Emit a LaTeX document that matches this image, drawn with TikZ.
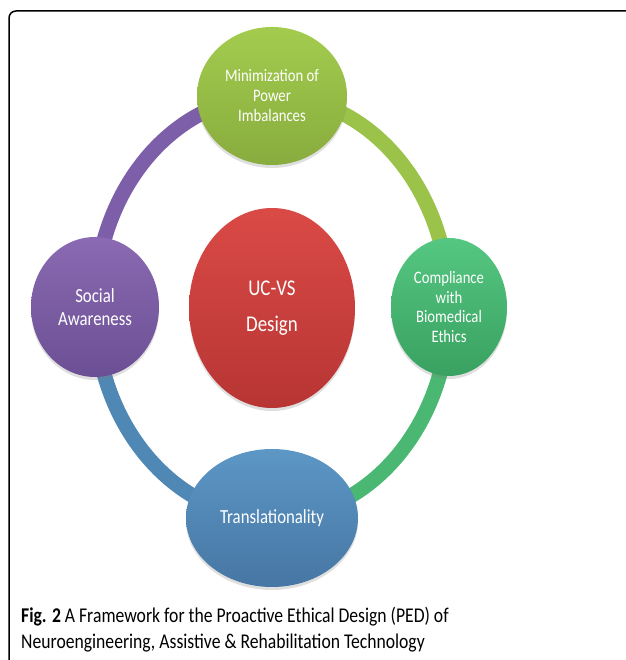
\documentclass[tikz,border=0pt]{standalone}
\usepackage{fontspec}
\setmainfont[FakeStretch=0.84]{Carlito}
\newfontfamily\capfont[FakeStretch=0.84]{Carlito}
\usetikzlibrary{shapes.geometric,shadows,backgrounds}

\definecolor{limetop}{HTML}{A3CC4E}
\definecolor{limebot}{HTML}{88AC3E}
\definecolor{limering}{HTML}{9BC34A}
\definecolor{purtop}{HTML}{8A6AB2}
\definecolor{purbot}{HTML}{6B4F94}
\definecolor{purring}{HTML}{7D5EA8}
\definecolor{redtop}{HTML}{DA4A46}
\definecolor{redbot}{HTML}{B73534}
\definecolor{grntop}{HTML}{55C781}
\definecolor{grnbot}{HTML}{39A161}
\definecolor{grnring}{HTML}{4AB872}
\definecolor{blutop}{HTML}{5C97C6}
\definecolor{blubot}{HTML}{4776A3}
\definecolor{bluring}{HTML}{4F88B5}

\begin{document}
\begin{tikzpicture}[x=1pt, y=1pt,
   bubble/.style={ellipse, inner sep=0pt, align=center, text=white,
      drop shadow={opacity=0.25, shadow xshift=0pt, shadow yshift=-3pt}},
   ring/.style={line width=15pt}]
   \useasboundingbox (0,0) rectangle (625,660);

   \def \Bubbles {
      top/272/564/150/138/lime/17.5/20/{Minimization of\\Power\\Imbalances},
      left/95/353/128/140/pur/20/23/{Social\\Awareness},
      right/449/353/116/138/grn/17.5/19.5/{Compliance\\with\\Biomedical\\Ethics},
      bottom/272/142/172/138/blu/20/23/{Translationality}}
   \def \Links {
      top/right/0/90/97.8/116.5/limering,
      right/bottom/-90/0/116.5/97.8/grnring,
      bottom/left/180/-90/97.8/116.5/bluring,
      left/top/90/180/116.5/97.8/purring}

   \foreach \n / \x / \y / \w / \h / \c / \s / \l / \t in \Bubbles {
      \node[bubble, minimum width=\w, minimum height=\h,
         top color=\c top, bottom color=\c bot,
         font=\fontsize{\s}{\l}\selectfont] (\n) at (\x, \y) {\t};
   }
   \node[bubble, minimum width=166, minimum height=200,
      top color=redtop, bottom color=redbot,
      font=\fontsize{22.5}{36}\selectfont] (core) at (272, 352) {UC-VS\\Design};

   \begin{scope}[on background layer]
      \draw[line width=1.5pt, rounded corners=7pt] (9,-20) rectangle (660,649);
      \foreach \u / \v / \o / \i / \do / \di / \c in \Links {
         \path[draw, ring, \c] (\u.center)
            to[out=\o, in=\i, out distance=\do, in distance=\di] (\v.center);
      }
   \end{scope}

   % caption
   \node[anchor=base west, inner sep=0pt, font=\capfont\fontsize{21}{25}\selectfont] (capA)
      at (21, 37) {\textbf{Fig. 2} A Framework for the Proactive Ethical Design (PED) of};
   \node[anchor=base west, inner sep=0pt, font=\capfont\fontsize{21}{25}\selectfont] (capB)
      at ([yshift=-25pt]capA.base west) {Neuroengineering, Assistive \& Rehabilitation Technology};
\end{tikzpicture}
\end{document}
